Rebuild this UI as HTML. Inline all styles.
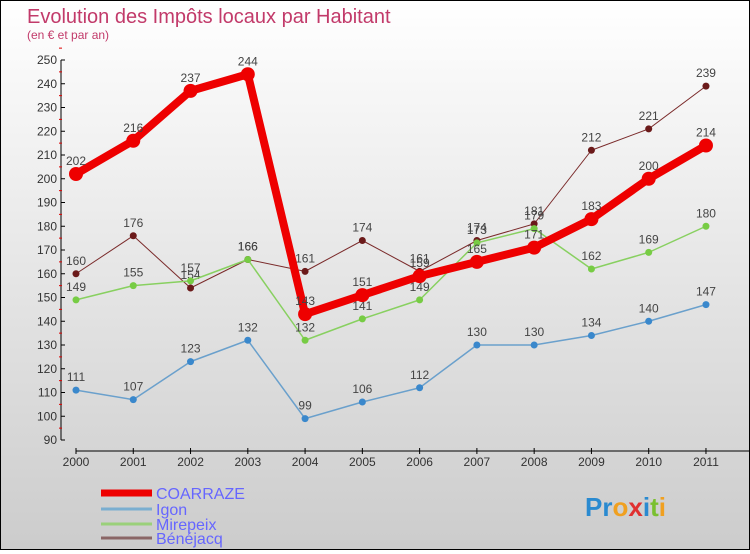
<!DOCTYPE html>
<html><head><meta charset="utf-8"><style>
body{margin:0}
#c{width:748px;height:548px;border:1px solid #000;background:linear-gradient(#ffffff,#cccccc);position:relative;font-family:"Liberation Sans",sans-serif}
</style></head><body>
<div id="c">
<svg id="s" width="748" height="548">
<text x="26" y="22" font-size="20" fill="#c23a6a">Evolution des Impôts locaux par Habitant</text>
<text x="26" y="38" font-size="12" fill="#c23a6a">(en € et par an)</text>
</svg>
</div>
<script>
const years=[2000,2001,2002,2003,2004,2005,2006,2007,2008,2009,2010,2011];
const yTicks=[90,100,110,120,130,140,150,160,170,180,190,200,210,220,230,240,250];
const coarraze=[202,216,237,244,143,151,159,165,171,183,200,214];
const igon=[111,107,123,132,99,106,112,130,130,134,140,147];
const mirepeix=[149,155,157,166,132,141,149,173,179,162,169,180];
const benejacq=[160,176,154,166,161,174,161,174,181,212,221,239];
const names=['COARRAZE','Igon','Mirepeix','Bénéjacq'];
const ns='http://www.w3.org/2000/svg';
const s=document.getElementById('s');
const X=i=>75+i*57.27, Y=v=>439-(v-90)*2.375;
function mk(t,a,p){const e=document.createElementNS(ns,t);for(const k in a)e.setAttribute(k,a[k]);(p||s).appendChild(e);return e;}
// y axis
let ax=mk('line',{x1:60,y1:Y(250),x2:60,y2:Y(90),stroke:'#000','stroke-width':1});


yTicks.forEach(v=>{
 mk('line',{x1:60,y1:Y(v),x2:64,y2:Y(v),stroke:'#000'});
 mk('line',{x1:58,y1:Y(v+5),x2:61,y2:Y(v+5),stroke:'#d00'});
 let t=mk('text',{x:56,y:Y(v)+4,'font-size':12,fill:'#333','text-anchor':'end'});t.textContent=v;
 
 
});
let xa=mk('line',{x1:75,y1:450,x2:748,y2:450,stroke:'#000'});


years.forEach((y,i)=>{
 mk('line',{x1:X(i),y1:447,x2:X(i),y2:453,stroke:'#000'});
 let t=mk('text',{x:X(i),y:465,'font-size':12,fill:'#333','text-anchor':'middle'});t.textContent=y;
 
 
});
const series=[
 {d:benejacq,c:'#7a2a2a',f:'#6b1a1a',w:1,r:3.5,n:'benejacq'},
 {d:mirepeix,c:'#88d060',f:'#77cc44',w:1.5,r:3.5,n:'mirepeix'},
 {d:igon,c:'#6aa0cc',f:'#3a88cc',w:1.5,r:3.5,n:'igon'},
 {d:coarraze,c:'#ee0000',f:'#ee0000',w:8,r:7,n:'coarraze'}
];
series.forEach(se=>{
 let p=mk('polyline',{points:se.d.map((v,i)=>X(i)+','+Y(v)).join(' '),fill:'none',stroke:se.c,'stroke-width':se.w,'stroke-linejoin':'round'});
 
 
 se.d.forEach((v,i)=>{
  let c=mk('circle',{cx:X(i),cy:Y(v),r:se.r,fill:se.f});
  
  
  let t=mk('text',{x:X(i),y:Y(v)-9,'font-size':12,fill:'#444','text-anchor':'middle'});t.textContent=v;
  
  
 });
});
// legend
const lc=['#ee0000','#7aaed0','#9ad07a','#8a6666'],lw=[7,3,3,3],ly=[492,508,523,537];
names.forEach((n,i)=>{
 let l=mk('line',{x1:100,y1:ly[i],x2:151,y2:ly[i],stroke:lc[i],'stroke-width':lw[i]});
 
 
 let t=mk('text',{x:155,y:ly[i]+6,'font-size':16,fill:'#6666ff'});t.textContent=n;
 
 
});
let logo=mk('text',{x:584,y:515,'font-size':26,'font-weight':'bold',fill:'#2a8ad0'});
logo.innerHTML='<tspan fill="#2a8ad0">Pr</tspan><tspan fill="#f0a020">o</tspan><tspan fill="#e03030">x</tspan><tspan fill="#2a8ad0">i</tspan><tspan fill="#7ac030">t</tspan><tspan fill="#f0a020">i</tspan>';


</script>
</body></html>
